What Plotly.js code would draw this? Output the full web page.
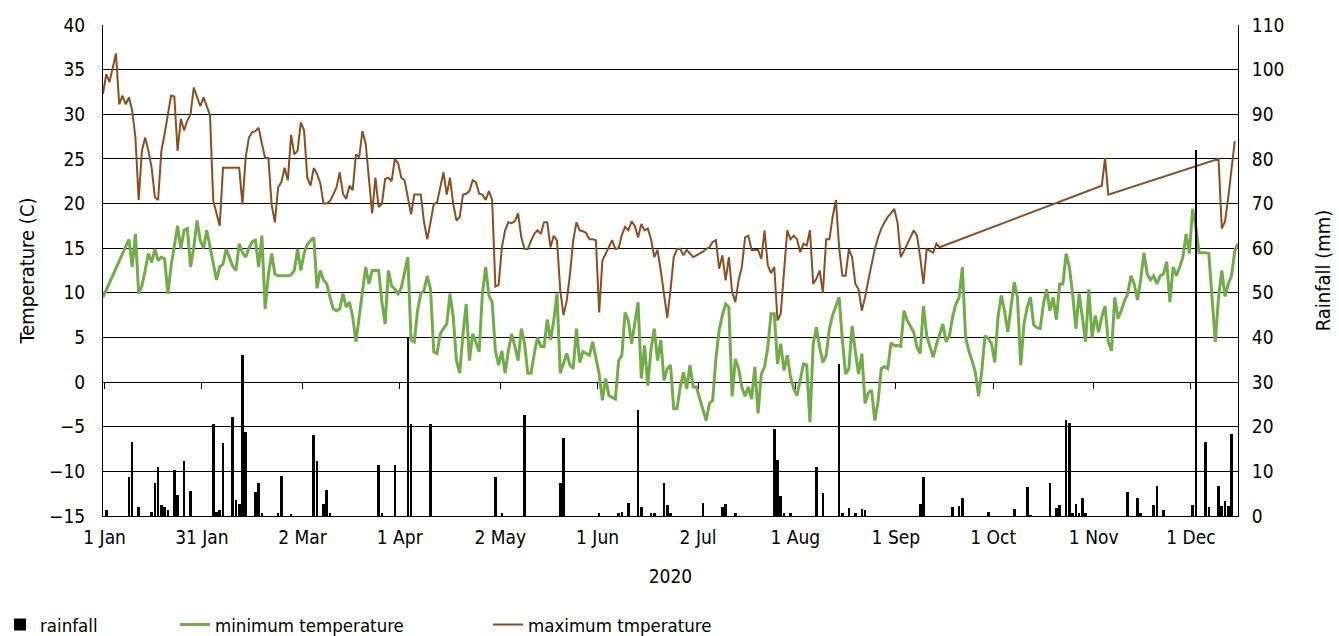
<!DOCTYPE html>
<html>
<head>
<meta charset="utf-8">
<script src="https://cdn.plot.ly/plotly-3.0.1.min.js"></script>
<style>
  html, body { margin: 0; padding: 0; background: #ffffff; }
  #chart { width: 1339px; height: 636px; }
</style>
</head>
<body>
<div id="chart"></div>
<script>
// Daily weather record, 1 Jan 2020 onwards (one value per day, null = not recorded)
const FIRST_DAY_UTC = Date.UTC(2020, 0, 1);

const maxTemp = [
  32.3, 34.5, 33.6, 35.3, 36.8, 31.1, 32.1, 31.1, 31.9, 30.4, 27.4, 20.4, 25.9, 27.4, 25.9, 24.0,
  20.7, 20.4, 25.9, 27.8, 30.2, 32.1, 32.0, 25.9, 29.5, 28.2, 29.3, 30.0, 33.0, 31.9, 30.9, 31.9,
  30.9, 29.9, 20.3, 18.8, 17.5, 24.0, 24.0, 24.0, 24.0, 24.0, 24.0, 19.9, 25.2, 27.4, 28.0, 28.1,
  28.5, 26.7, 25.1, 25.1, 19.9, 17.9, 21.8, 22.4, 24.0, 22.6, 27.7, 25.5, 25.9, 29.1, 28.2, 22.9,
  22.0, 24.0, 23.3, 22.3, 20.0, 20.0, 20.3, 21.0, 21.8, 23.5, 21.1, 20.5, 22.0, 21.5, 25.5, 25.2,
  28.1, 26.7, 22.9, 18.9, 22.9, 19.6, 19.95, 22.75, 22.9, 22.5, 25.0, 24.5, 22.9, 22.6, 20.7, 18.8,
  21.0, 21.0, 21.0, 17.9, 16.0, 17.9, 19.95, 20.1, 21.8, 23.5, 21.0, 22.9, 19.95, 18.1, 18.5, 21.0,
  21.1, 21.4, 22.6, 22.4, 21.1, 21.0, 20.4, 21.4, 20.4, 10.7, 10.9, 15.1, 17.0, 17.9, 17.8, 18.0,
  18.9, 16.2, 14.9, 14.9, 15.85, 16.6, 17.0, 16.6, 17.9, 17.9, 15.1, 16.4, 15.85, 10.3, 7.5, 9.1,
  12.1, 15.85, 17.9, 17.0, 16.9, 16.7, 16.0, 16.0, 15.9, 7.8, 13.6, 14.4, 15.1, 15.9, 14.9, 15.0,
  16.5, 17.4, 17.0, 18.0, 17.5, 16.2, 17.7, 17.0, 17.2, 16.0, 14.0, 14.8, 12.5, 9.7, 7.2, 10.3,
  14.0, 14.9, 14.9, 14.2, 14.8, 14.4, 14.0, 14.2, 14.4, 14.6, 14.9, 15.1, 15.7, 15.9, 12.7, 14.2,
  11.4, 14.0, 10.1, 8.95, 11.4, 12.9, 16.2, 16.4, 14.8, 14.8, 14.8, 13.8, 17.0, 13.1, 12.2, 12.9,
  6.9, 7.65, 12.1, 17.0, 16.0, 16.4, 16.0, 14.55, 15.5, 15.3, 17.0, 11.0, 11.6, 12.5, 10.0, 16.0,
  16.0, 18.5, 20.4, 15.1, 11.9, 11.9, 14.9, 14.0, 11.0, 10.4, 8.0, 9.5, 11.4, 13.2, 14.9, 16.2,
  17.2, 17.9, 18.5, 18.9, 19.4, 17.9, 14.0, 14.7, 15.5, 16.2, 17.0, 16.4, 14.0, 11.0, 14.9, 14.7,
  14.5, 15.5, 15.1, null, null, null, null, null, null, null, null, null, null, null, null, null,
  null, null, null, null, null, null, null, null, null, null, null, null, null, null, null, null,
  null, null, null, null, null, null, null, null, null, null, null, null, null, null, null, null,
  null, null, null, null, 22.0, 25.1, 21.0, null, null, null, null, null, null, null, null, null,
  null, null, null, null, null, null, null, null, null, null, null, null, null, null, null, null,
  null, null, null, null, null, null, null, null, 25.0, 17.2, 18.0, 20.7, 23.7, 27.0, null
];

const minTemp = [
  9.5, null, null, null, null, null, null, null, 16.0, 12.9, 16.6, 9.9, 10.8, 12.5, 14.4, 13.4,
  14.9, 13.6, 14.0, 13.8, 9.9, 13.0, 15.1, 17.5, 14.9, 17.0, 17.2, 12.9, 15.1, 18.1, 15.85, 15.0,
  17.0, 15.1, 13.0, 11.45, 12.9, 13.2, 14.9, 14.0, 13.0, 12.5, 15.5, 14.5, 14.0, 15.0, 15.7, 15.9,
  12.9, 16.4, 8.2, 12.0, 14.4, 12.1, 11.9, 11.9, 11.9, 11.9, 12.0, 12.5, 14.9, 12.5, 14.4, 15.4,
  15.85, 16.2, 10.5, 12.5, 11.45, 11.0, 9.5, 8.2, 8.0, 8.2, 9.9, 8.4, 8.95, 7.3, 4.5, 7.3,
  9.9, 12.9, 11.0, 12.5, 12.5, 12.5, 9.0, 6.5, 12.5, 10.8, 10.4, 9.9, 10.6, 12.3, 14.0, 4.7,
  4.5, 8.0, 9.9, 10.3, 11.9, 10.4, 3.4, 3.2, 5.4, 6.0, 6.5, 9.9, 7.3, 2.4, 1.0, 5.4,
  8.75, 2.4, 5.4, 4.5, 3.4, 9.9, 12.9, 9.7, 8.95, 3.5, 1.9, 3.5, 1.0, 3.5, 5.4, 4.0,
  2.4, 6.0, 4.3, 1.0, 1.0, 3.2, 5.0, 4.0, 4.0, 7.0, 4.7, 6.9, 9.9, 1.0, 2.2, 3.2,
  1.9, 1.5, 6.0, 2.2, 3.4, 3.2, 3.0, 4.5, 2.5, 0.9, -2.05, 0.4, -1.5, -1.7, -1.9, 2.4,
  3.0, 7.8, 6.9, 4.3, 6.9, 8.95, 0.4, 4.1, -0.4, 3.7, 6.0, 2.4, 4.7, 0.2, 1.5, 1.9,
  -3.0, -3.0, -0.55, 1.1, -0.75, 1.9, -0.55, -0.55, -1.85, -3.0, -4.3, -2.4, -2.05, 2.6, 5.8, 7.5,
  8.75, 8.4, -1.6, 2.6, 1.5, -0.55, -1.6, -0.55, -1.9, 1.7, -3.5, 0.9, 1.7, 3.9, 7.65, 7.65,
  2.05, 4.3, 1.3, 3.0, 0.6, -0.75, -1.5, 0.2, 2.05, 1.9, -4.5, 4.3, 6.15, 3.9, 2.2, 3.0,
  6.0, 7.5, 8.6, 9.5, 4.7, 0.9, 1.5, 6.3, 3.4, 0.9, 3.2, -2.4, -1.2, -0.9, -4.3, -2.2,
  1.5, 1.75, 1.5, 4.4, 4.1, 4.1, 4.0, 8.0, 6.9, 6.3, 5.6, 3.9, 3.2, 8.5, 5.2, 4.0,
  2.8, 4.2, 5.4, 6.5, 4.5, 5.2, 7.3, 8.75, 9.5, 12.9, 5.0, 3.5, 2.4, 1.1, -1.6, 1.3,
  5.2, 4.85, 4.3, 2.2, 7.3, 9.7, 8.0, 5.6, 8.4, 11.2, 9.5, 1.9, 6.5, 8.4, 9.5, 6.4,
  6.1, 6.0, 8.75, 10.4, 8.0, 9.5, 7.0, 11.0, 11.0, 14.4, 12.9, 9.9, 6.0, 9.9, 7.3, 4.5,
  10.4, 5.0, 7.45, 5.6, 7.3, 8.5, 4.5, 3.5, 9.5, 7.1, 8.0, 9.1, 9.9, 11.9, 11.0, 9.2,
  11.5, 14.5, 12.1, 11.45, 11.9, 11.0, 11.9, 12.1, 13.5, 8.95, 12.9, 11.9, 12.9, 14.0, 16.6, 14.4,
  19.4, 17.4, 14.5, 14.5, 14.5, 14.4, 9.9, 4.5, 9.5, 12.5, 9.6, 11.0, 11.9, 14.7, 15.5
];

// Rainy days only: day number (0 = 1 Jan) and rainfall in mm
const rainDay = [
  1, 8, 9, 11, 15, 16, 17, 18, 19, 20, 22, 23, 25, 27, 34, 35, 36, 37, 40, 41,
  42, 43, 44, 47, 48, 49, 54, 55, 58, 65, 66, 68, 69, 70, 85, 86, 90, 94, 95, 101,
  121, 123, 130, 141, 142, 153, 159, 160, 162, 165, 166, 169, 170, 173, 174, 175, 185, 191, 192, 195,
  207, 208, 209, 210, 212, 220, 222, 227, 228, 230, 232, 234, 235, 252, 253, 262, 264, 265, 273, 281,
  285, 286, 292, 294, 295, 297, 298, 299, 300, 301, 302, 303, 316, 319, 320, 324, 325, 327, 336, 337,
  340, 341, 344, 345, 346, 347, 348
];
const rainMm = [
  1.3, 8.8, 16.5, 2.1, 1.0, 7.3, 10.9, 2.5, 2.1, 1.3, 10.3, 4.7, 12.4, 5.7, 20.6, 1.0, 1.4, 16.3, 22.2, 3.6,
  2.7, 36.0, 18.9, 5.4, 7.5, 0.6, 0.7, 9.0, 0.5, 18.1, 12.4, 2.7, 5.8, 0.6, 11.5, 0.7, 11.5, 40.1, 20.6, 20.6,
  8.8, 0.7, 22.6, 7.3, 17.4, 0.7, 0.7, 1.0, 3.0, 23.7, 2.1, 0.6, 0.7, 7.5, 2.5, 0.6, 3.0, 2.1, 2.8, 0.6,
  19.4, 12.5, 4.5, 0.6, 0.6, 10.9, 5.1, 34.0, 0.6, 1.7, 0.7, 1.5, 1.3, 2.8, 8.8, 2.1, 2.3, 4.0, 1.0, 1.5,
  6.5, 0.2, 7.5, 1.7, 2.5, 21.5, 20.9, 0.6, 2.8, 0.6, 4.0, 0.7, 5.4, 4.0, 0.6, 2.5, 6.8, 1.3, 2.5, 82.0,
  16.5, 2.1, 6.8, 2.3, 3.4, 2.3, 18.4
];

// Date-axis ticks and their labels
const tickDays = ['2020-01-01', '2020-01-31', '2020-03-02', '2020-04-01', '2020-05-02', '2020-06-01',
                  '2020-07-02', '2020-08-01', '2020-09-01', '2020-10-01', '2020-11-01', '2020-12-01'];
const tickLabels = ['1 Jan', '31 Jan', '2 Mar', '1 Apr', '2 May', '1 Jun',
                    '2 Jul', '1 Aug', '1 Sep', '1 Oct', '1 Nov', '1 Dec'];

const DAY_MS = 86400000;
function dayToDate(i) {
  return new Date(FIRST_DAY_UTC + i * DAY_MS).toISOString().slice(0, 10);
}
const dailyDates = minTemp.map((_, i) => dayToDate(i));
const rainDates = rainDay.map(dayToDate);
const tickVals = tickDays.map(d => d + ' 12:00');
const xRange = [dayToDate(0) + ' 00:00', dayToDate(350) + ' 00:00'];

const FONT = '"DejaVu Sans Condensed", "Liberation Sans Narrow", sans-serif';
const GREEN = '#70AD47';
const BROWN = '#8B4F1E';
const W = 1339, H = 636;

const traces = [
  {
    type: 'scatter', mode: 'lines', name: 'minimum temperature',
    x: dailyDates, y: minTemp, connectgaps: true,
    line: { color: GREEN, width: 3 },
    xaxis: 'x', yaxis: 'y', legend: 'legend2'
  },
  {
    type: 'scatter', mode: 'lines', name: 'maximum tmperature',
    x: dailyDates, y: maxTemp, connectgaps: true,
    line: { color: BROWN, width: 2 },
    xaxis: 'x', yaxis: 'y', legend: 'legend3'
  },
  {
    type: 'bar', name: 'rainfall',
    x: rainDates, y: rainMm, width: 0.8 * DAY_MS,
    marker: { color: '#000000', line: { width: 0 } },
    xaxis: 'x', yaxis: 'y2', legend: 'legend'
  },
  {
    // carries the small date ticks drawn on the 0 °C line
    type: 'scatter', mode: 'markers', x: [], y: [], showlegend: false,
    hoverinfo: 'skip', xaxis: 'x2', yaxis: 'y'
  }
];

// legends sit in the bottom strip; positions are in container pixels
function legendAt(leftPx) {
  return {
    xref: 'container', yref: 'container',
    x: leftPx / W, y: (H - 625) / H, xanchor: 'left', yanchor: 'middle',
    orientation: 'h',
    font: { family: FONT, size: 18.5, color: '#000' },
    bgcolor: 'rgba(0,0,0,0)', borderwidth: 0
  };
}

const layout = {
  width: W, height: H,
  margin: { l: 103, r: 101, t: 25, b: 120, pad: 0 },
  paper_bgcolor: '#ffffff', plot_bgcolor: '#ffffff',
  font: { family: FONT, size: 19, color: '#000' },
  bargap: 0,
  xaxis: {
    type: 'date', range: xRange, automargin: false,
    tickmode: 'array', tickvals: tickVals, ticktext: tickLabels,
    ticks: '', ticklabelstandoff: 4,
    showgrid: false, zeroline: false,
    showline: true, linecolor: '#000', linewidth: 1,
    tickfont: { family: FONT, size: 19, color: '#000' },
    title: { text: '2020', font: { family: FONT, size: 19, color: '#000' }, standoff: 22 }
  },
  xaxis2: {
    type: 'date', range: xRange, overlaying: 'x', anchor: 'free', position: 15 / 55,
    automargin: false,
    tickmode: 'array', tickvals: tickVals,
    ticks: 'outside', ticklen: 6, tickwidth: 1, tickcolor: '#000',
    showticklabels: false, showgrid: false, zeroline: false, showline: false
  },
  yaxis: {
    range: [-15, 40], tick0: -15, dtick: 5, automargin: false,
    showgrid: true, gridcolor: '#000', gridwidth: 1,
    zeroline: false, showline: true, linecolor: '#000', linewidth: 1,
    ticks: '', ticklabelstandoff: 13,
    tickfont: { family: FONT, size: 19, color: '#000' },
    title: { text: 'Temperature (C)', font: { family: FONT, size: 20, color: '#000' }, standoff: 9 }
  },
  yaxis2: {
    overlaying: 'y', side: 'right', anchor: 'x', automargin: false,
    range: [0, 110], tick0: 0, dtick: 10,
    showgrid: false, zeroline: false, showline: true, linecolor: '#000', linewidth: 1,
    ticks: '', ticklabelstandoff: 9,
    tickfont: { family: FONT, size: 19, color: '#000' },
    title: { text: 'Rainfall (mm)', font: { family: FONT, size: 20, color: '#000' }, standoff: 32 }
  },
  legend: legendAt(-13),
  legend2: legendAt(175),
  legend3: legendAt(488),
  showlegend: true
};

Plotly.newPlot('chart', traces, layout, { displayModeBar: false, staticPlot: true });
</script>
</body>
</html>
